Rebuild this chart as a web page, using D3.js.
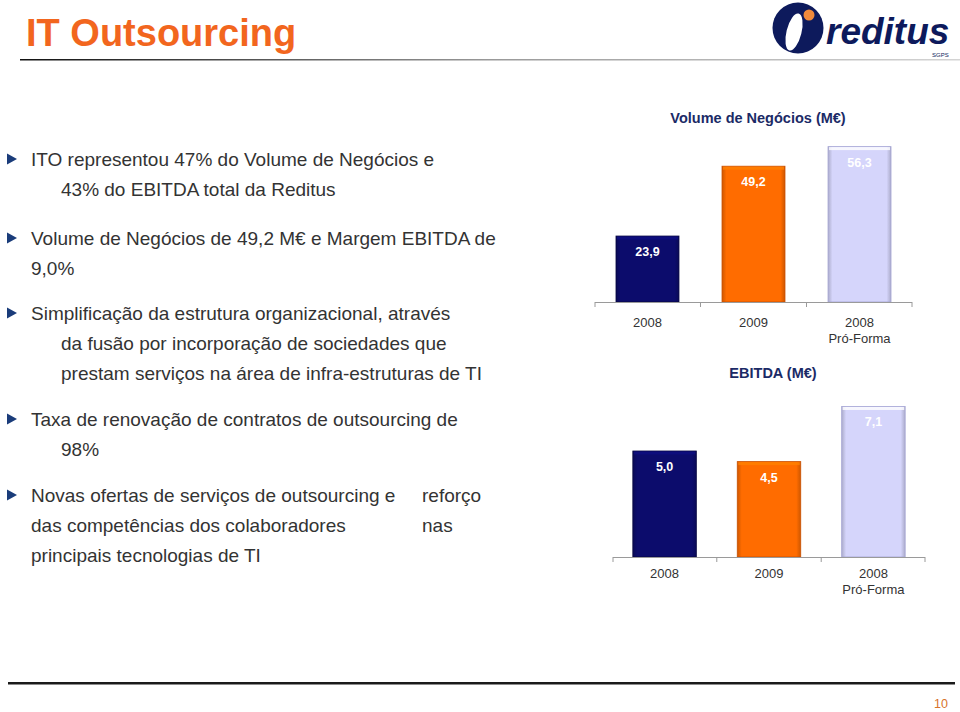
<!DOCTYPE html>
<html>
<head>
<meta charset="utf-8">
<script src="https://cdn.jsdelivr.net/npm/d3@7/dist/d3.min.js"></script>
<style>
  html, body { margin: 0; padding: 0; background: #fff; }
  svg { display: block; font-family: "Liberation Sans", Arial, Helvetica, sans-serif; }
</style>
</head>
<body>
<svg id="slide" width="960" height="712"></svg>
<script>
// ---------- data ----------
const categories = ["2008", "2009", "2008 Pró-Forma"];
const categoryLines = [["2008"], ["2009"], ["2008", "Pró-Forma"]];
const volumeValues = [23.9, 49.2, 56.3];
const ebitdaValues = [5.0, 4.5, 7.1];
const volumeTitle = "Volume de Negócios (M€)";
const ebitdaTitle = "EBITDA (M€)";
const slideTitle = "IT Outsourcing";
const pageNumber = "10";
const bullets = [
  { lines: [["ITO representou 47% do Volume de Negócios e"], ["43% do EBITDA total da Reditus"]], indent: [0, 1] },
  { lines: [["Volume de Negócios de 49,2 M€ e Margem EBITDA de"], ["9,0%"]], indent: [0, 0] },
  { lines: [["Simplificação da estrutura organizacional, através"], ["da fusão por incorporação de sociedades que"], ["prestam serviços na área de infra-estruturas de TI"]], indent: [0, 1, 1] },
  { lines: [["Taxa de renovação de contratos de outsourcing de"], ["98%"]], indent: [0, 1] },
  { lines: [["Novas ofertas de serviços de outsourcing e", "reforço"], ["das competências dos colaboradores", "nas"], ["principais tecnologias de TI"]], indent: [0, 0, 0] }
];

// ---------- styles ----------
const navy = "#0c0c6c";
const orange = "#ff6c00";
const lavender = "#d5d5fb";
const barFills = [navy, orange, lavender];
const barEdges = ["#05053f", "#c94f00", "#a4a4d4"];
const textNavy = "#1b2a66";

const svg = d3.select("#slide");
const defs = svg.append("defs");

// ---------- header ----------
const hdrGrad = defs.append("linearGradient").attr("id", "hdrLine").attr("x1", "0").attr("x2", "1");
hdrGrad.append("stop").attr("offset", "0").attr("stop-color", "#111");
hdrGrad.append("stop").attr("offset", "0.5").attr("stop-color", "#999");
hdrGrad.append("stop").attr("offset", "1").attr("stop-color", "#d4d4d4");

svg.append("text").attr("x", 26).attr("y", 46)
  .attr("font-size", 38).attr("font-weight", "bold").attr("fill", "#f2661e")
  .text(slideTitle);

svg.append("rect").attr("x", 20).attr("y", 59).attr("width", 940).attr("height", 1.5)
  .attr("fill", "url(#hdrLine)");

// logo
const logo = svg.append("g");
logo.append("circle").attr("cx", 798).attr("cy", 28).attr("r", 25.5).attr("fill", "#0d1a5c");
logo.append("ellipse").attr("cx", 794).attr("cy", 32).attr("rx", 7.5).attr("ry", 19)
  .attr("transform", "rotate(14 794 32)").attr("fill", "#fff");
logo.append("circle").attr("cx", 809).attr("cy", 15).attr("r", 5.5).attr("fill", "#f08a3c");
logo.append("text").attr("x", 826).attr("y", 44)
  .attr("font-size", 37).attr("font-weight", "bold").attr("font-style", "italic")
  .attr("fill", "#0d1a5c")
  .text("reditus");
logo.append("text").attr("x", 932).attr("y", 57).attr("font-size", 6).attr("fill", "#0d1a5c").text("SGPS");

// ---------- bullets ----------
const bulletTop = [159, 238, 313, 419, 495];
const lineGap = 30.3;
const bx = 31, indentX = 61, secondCol = 422;
bullets.forEach((b, i) => {
  const cy = bulletTop[i];
  svg.append("path")
    .attr("d", `M7,${cy - 5.5} L17,${cy} L7,${cy + 5.5} Z`)
    .attr("fill", "#1a3c7a");
  b.lines.forEach((parts, j) => {
    const y = cy + j * lineGap + 6.5;
    const x = b.indent[j] ? indentX : bx;
    svg.append("text").attr("x", x).attr("y", y).attr("font-size", 19).attr("fill", "#333")
      .text(parts[0]);
    if (parts[1]) {
      svg.append("text").attr("x", secondCol).attr("y", y).attr("font-size", 19).attr("fill", "#333")
        .text(parts[1]);
    }
  });
});

// ---------- bar gradients ----------
barFills.forEach((c, i) => {
  const g = defs.append("linearGradient").attr("id", "bar" + i).attr("x1", "0").attr("x2", "1");
  const dark = d3.color(c).darker(0.6).formatHex();
  g.append("stop").attr("offset", "0").attr("stop-color", dark);
  g.append("stop").attr("offset", "0.07").attr("stop-color", c);
  g.append("stop").attr("offset", "0.93").attr("stop-color", c);
  g.append("stop").attr("offset", "1").attr("stop-color", dark);
});

const locale = d3.formatLocale({ decimal: ",", thousands: ".", grouping: [3], currency: ["", "€"] });
const fmt = locale.format(".1f");

function drawChart(cfg) {
  const g = svg.append("g");
  const x = d3.scaleBand().domain(categories).range([cfg.x0, cfg.x1])
    .paddingInner(cfg.pi).paddingOuter(cfg.po);
  const y = d3.scaleLinear().domain(cfg.domain).range([cfg.base, cfg.base - cfg.pxPerUnit * cfg.domain[1]]);

  // title
  g.append("text").attr("x", cfg.titleX).attr("y", cfg.titleY)
    .attr("text-anchor", "middle").attr("font-size", 14.5).attr("font-weight", "bold")
    .attr("fill", textNavy).text(cfg.title);

  // bars
  const bars = g.selectAll("g.bar").data(cfg.values).join("g").attr("class", "bar");
  bars.append("rect")
    .attr("x", (d, i) => x(categories[i]))
    .attr("y", d => y(d))
    .attr("width", x.bandwidth())
    .attr("height", d => y(0) - y(d))
    .attr("fill", (d, i) => `url(#bar${i})`)
    .attr("stroke", (d, i) => barEdges[i]).attr("stroke-width", 0.8);
  // top bevel highlight
  bars.append("rect")
    .attr("x", (d, i) => x(categories[i]) + 1)
    .attr("y", d => y(d) + 0.5)
    .attr("width", x.bandwidth() - 2)
    .attr("height", 3)
    .attr("fill", (d, i) => d3.color(barFills[i]).brighter(0.5).formatHex())
    .attr("opacity", 0.8);
  bars.append("text")
    .attr("x", (d, i) => x(categories[i]) + x.bandwidth() / 2)
    .attr("y", d => y(d) + 20)
    .attr("text-anchor", "middle").attr("font-size", 12.5).attr("font-weight", "bold")
    .attr("fill", "#fff").text(d => fmt(d));

  // axis
  const step = x.step();
  g.append("line").attr("x1", cfg.x0).attr("x2", cfg.x1).attr("y1", y(0) + 0.5).attr("y2", y(0) + 0.5)
    .attr("stroke", "#9a9a9a").attr("stroke-width", 1);
  const tickXs = [cfg.x0].concat(categories.slice(1).map(c => x(c) - step * cfg.pi / 2)).concat([cfg.x1]);
  g.selectAll("line.tick").data(tickXs).join("line").attr("class", "tick")
    .attr("x1", d => d).attr("x2", d => d).attr("y1", y(0)).attr("y2", y(0) + 5)
    .attr("stroke", "#9a9a9a");

  // category labels
  categoryLines.forEach((lines, i) => {
    lines.forEach((t, j) => {
      g.append("text").attr("x", x(categories[i]) + x.bandwidth() / 2)
        .attr("y", y(0) + cfg.labelDy + j * 15.5)
        .attr("text-anchor", "middle").attr("font-size", 13).attr("fill", "#333").text(t);
    });
  });
}

drawChart({
  title: volumeTitle, titleX: 758, titleY: 123,
  values: volumeValues, domain: [0, 60], pxPerUnit: 2.76,
  x0: 595, x1: 912, pi: 0.406, po: 0.198, base: 302, labelDy: 25
});
drawChart({
  title: ebitdaTitle, titleX: 773, titleY: 378,
  values: ebitdaValues, domain: [0, 8], pxPerUnit: 21.2,
  x0: 613, x1: 925, pi: 0.392, po: 0.19, base: 557, labelDy: 21
});

// ---------- footer ----------
svg.append("rect").attr("x", 8).attr("y", 682).attr("width", 947).attr("height", 2.5).attr("fill", "#1a1a1a");
svg.append("text").attr("x", 948).attr("y", 708).attr("text-anchor", "end")
  .attr("font-size", 12.5).attr("fill", "#d8742c").text(pageNumber);
</script>
</body>
</html>
